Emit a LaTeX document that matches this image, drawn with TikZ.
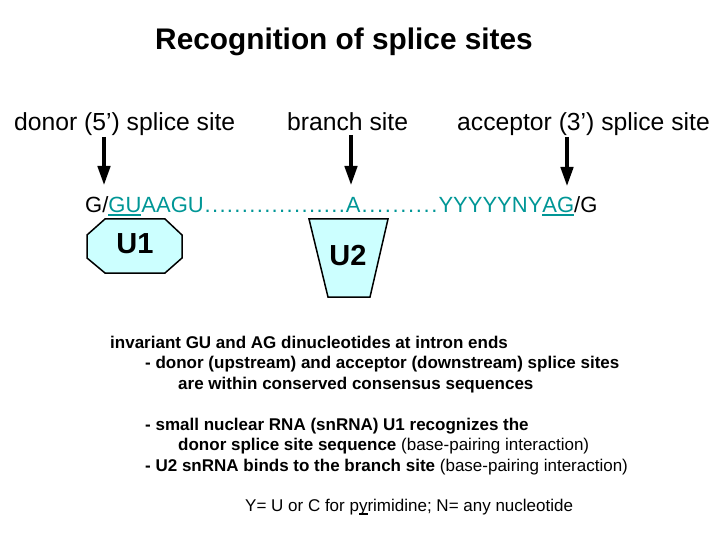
\documentclass[tikz,border=0pt]{standalone}
\usepackage{fontspec}
\setmainfont{Liberation Sans}
\usetikzlibrary{arrows.meta}
\definecolor{seqteal}{RGB}{0,150,150}
\definecolor{snfill}{RGB}{204,255,255}
\newcommand\myul[2][2pt]{\setbox0\hbox{#2}\rlap{\rule[-3.6pt]{\wd0}{#1}}\box0}
\newcommand\mydots[1]{\makebox[#1]{\xleaders\hbox to 7.15pt{\hss.\hss}\hfill}}
\begin{document}
\begin{tikzpicture}[x=1pt,y=-1pt,
  lab/.style={anchor=base west, inner sep=0pt, font=\fontsize{24.7}{26}\selectfont},
  body/.style={anchor=base west, inner sep=0pt, font=\fontsize{17}{18}\selectfont\bfseries},
  note/.style={anchor=base west, inner sep=0pt, font=\fontsize{17}{18}\selectfont},
  pointer/.style={line width=3.2pt, -{Triangle[length=19pt,width=12.5pt]}},
  snrna/.style={fill=snfill, draw=black, line width=1.5pt, line join=miter},
  sntext/.style={anchor=base, inner sep=0pt, font=\fontsize{29}{30}\selectfont\bfseries},
]
\useasboundingbox (0,0) rectangle (720,540);
\node[inner sep=0pt, anchor=base, font=\fontsize{29.8}{30}\selectfont\bfseries] (title) at (344,50) {Recognition of splice sites};

\node[lab] (donor) at (14,131) {donor (5’) splice site};
\node[lab] (branch) at (287,131) {branch site};
\node[lab] (acceptor) at (457,131) {acceptor (3’) splice site};

\coordinate (d1) at (104,137); \coordinate (d2) at (104,185);
\coordinate (b1) at (351,135); \coordinate (b2) at (351,185);
\coordinate (c1) at (567,137); \coordinate (c2) at (567,186);
\draw[pointer] (d1) -- (d2);
\draw[pointer] (b1) -- (b2);
\draw[pointer] (c1) -- (c2);

\node[anchor=base west, inner sep=0pt, text=seqteal, font=\fontsize{22}{24}\selectfont] (seq) at (85,212)
  {{\color{black}G/}\myul{GU}AAGU\mydots{142pt}A\mydots{78pt}YYYYYNY\myul{AG}{\color{black}/G}};

\draw[snrna] (105,219) -- (165,219) -- (182,235) -- (182,258) -- (165,273) -- (105,273) -- (87,258) -- (87,235) -- cycle;
\node[sntext] (u1) at (135,253) {U1};
\draw[snrna] (309,219) -- (388,219) -- (370,297) -- (328,297) -- cycle;
\node[sntext] (u2) at (348,265) {U2};

\node[body] (l1) at (110,348) {invariant GU and AG dinucleotides at intron ends};
\node[body] (l2) at (145,368) {- donor (upstream) and acceptor (downstream) splice sites};
\node[body] (l3) at (178,389) {are within conserved consensus sequences};
\node[body] (l4) at (145,430) {- small nuclear RNA (snRNA) U1 recognizes the};
\node[body] (l5) at (178,450) {donor splice site sequence {\mdseries (base-pairing interaction)}};
\node[body] (l6) at (145,471) {- U2 snRNA binds to the branch site {\mdseries (base-pairing interaction)}};
\node[note] (l7) at (245,511) {Y= U or C for p\myul[1.4pt]{y}rimidine; N= any nucleotide};
\end{tikzpicture}
\end{document}
